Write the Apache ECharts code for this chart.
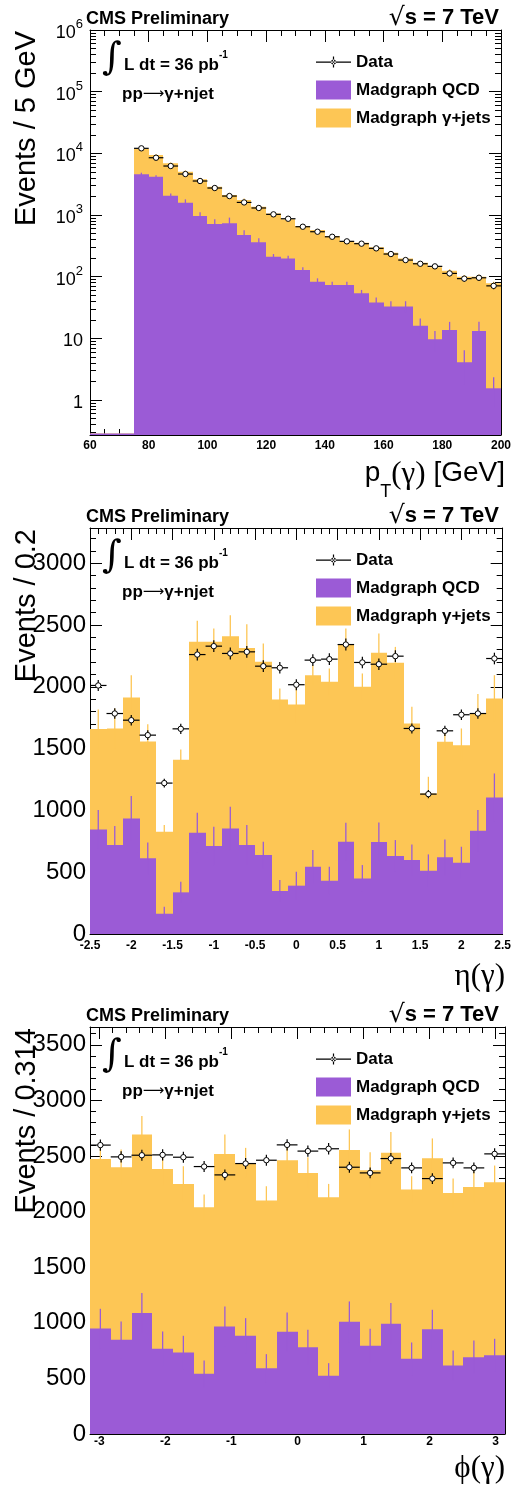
<!DOCTYPE html>
<html>
<head>
<meta charset="utf-8">
<script src="https://cdn.jsdelivr.net/npm/echarts@6/dist/echarts.min.js"></script>
<style>
  html, body { margin: 0; padding: 0; background: #fff; }
  #chart { width: 514px; height: 1495px; }
</style>
</head>
<body>
<div id="chart"></div>
<script>
// ---------- photon pT, 5 GeV bins from 60 to 200 GeV ----------
const ptBinWidth = 5;
const ptCenters = [62.5, 67.5, 72.5, 77.5, 82.5, 87.5, 92.5, 97.5, 102.5, 107.5, 112.5, 117.5, 122.5, 127.5,
  132.5, 137.5, 142.5, 147.5, 152.5, 157.5, 162.5, 167.5, 172.5, 177.5, 182.5, 187.5, 192.5, 197.5];
const ptData = [0, 0, 0, 12060, 8490, 6230, 4620, 3560, 2740, 2030, 1600, 1300, 1025, 870,
  646, 536, 444, 374, 343, 288, 233, 186, 162, 147, 113, 93, 96, 71];
const ptDataErr = [0, 0, 0, 110, 92, 79, 68, 60, 52, 45, 40, 36, 32, 29,
  25, 23, 21, 19, 19, 17, 15, 14, 13, 12, 11, 10, 10, 8.4];
const ptQCD = [0, 0, 0, 4570, 4180, 2055, 1585, 964, 715, 733, 474, 361, 211, 198,
  128, 83, 73, 73, 54, 38, 33, 33, 16, 9.7, 13.6, 4.1, 13.2, 1.55];
const ptQCDErr = [0, 0, 0, 280, 250, 180, 210, 145, 135, 175, 90, 58, 22, 20,
  14, 11, 10, 10, 7, 8, 7, 7, 5, 3.5, 4.9, 2.3, 5.4, 0.8];
const ptGJets = [0, 0, 0, 7180, 5220, 4840, 3460, 2840, 2170, 1380, 1280, 1000, 850, 652,
  535, 488, 383, 305, 302, 261, 212, 165, 153, 132, 111, 96, 87, 76.5];
const ptStackErr = [0, 0, 0, 300, 270, 210, 230, 165, 150, 180, 100, 70, 35, 30,
  22, 18, 16, 15, 13, 13, 12, 11, 9, 8, 8, 6, 8, 5];

// ---------- photon eta, 0.2 bins ----------
const etaBinWidth = 0.2;
const etaCenters = [-2.4, -2.2, -2.0, -1.8, -1.6, -1.4, -1.2, -1.0, -0.8, -0.6, -0.4, -0.2, 0.0,
  0.2, 0.4, 0.6, 0.8, 1.0, 1.2, 1.4, 1.6, 1.8, 2.0, 2.2, 2.4];
const etaData = [2011, 1784, 1730, 1609, 1221, 1660, 2261, 2329, 2270, 2283, 2167, 2154, 2017,
  2216, 2224, 2342, 2197, 2183, 2248, 1663, 1132, 1644, 1774, 1784, 2229];
const etaDataErr = [45, 42, 42, 40, 35, 41, 48, 48, 48, 48, 47, 46, 45,
  47, 47, 48, 47, 47, 47, 41, 34, 41, 42, 42, 47];
const etaQCD = [846, 720, 935, 612, 164, 337, 819, 712, 854, 720, 639, 348, 391,
  544, 431, 747, 450, 744, 631, 598, 512, 620, 577, 836, 1105];
const etaQCDErr = [157, 153, 181, 129, 57, 86, 162, 156, 176, 161, 108, 89, 113,
  135, 113, 153, 108, 159, 129, 127, 132, 145, 129, 167, 194];
const etaGJets = [812, 943, 979, 946, 663, 1073, 1545, 1652, 1556, 1595, 1563, 1550, 1466,
  1550, 1609, 1595, 1550, 1531, 1563, 1106, 625, 935, 951, 948, 801];
const etaStackErr = [159, 162, 180, 140, 54, 83, 170, 108, 170, 192, 148, 89, 150,
  80, 108, 130, 108, 156, 129, 134, 135, 80, 135, 157, 188];

// ---------- photon phi, 20 bins over [-pi, pi] ----------
const phiBinWidth = 0.314159;
const phiCenters = [-2.9845, -2.6704, -2.3562, -2.0420, -1.7279, -1.4137, -1.0996, -0.7854, -0.4712, -0.1571,
  0.1571, 0.4712, 0.7854, 1.0996, 1.4137, 1.7279, 2.0420, 2.3562, 2.6704, 2.9845];
const phiData = [2598, 2492, 2507, 2510, 2489, 2405, 2330, 2432, 2462, 2600,
  2544, 2565, 2399, 2348, 2477, 2393, 2297, 2438, 2393, 2519];
const phiDataErr = [51, 50, 50, 50, 50, 49, 48, 49, 50, 51, 50, 51, 49, 48, 50, 49, 48, 49, 49, 50];
const phiQCD = [949, 847, 1087, 766, 733, 541, 967, 883, 592, 919,
  781, 523, 1009, 793, 991, 676, 943, 616, 691, 709];
const phiQCDErr = [177, 165, 180, 156, 150, 120, 180, 159, 126, 174,
  156, 114, 183, 153, 186, 147, 174, 135, 150, 147];
const phiGJets = [1525, 1552, 1607, 1618, 1516, 1498, 1552, 1555, 1507, 1543,
  1567, 1606, 1544, 1579, 1538, 1522, 1537, 1552, 1531, 1555];
const phiStackErr = [150, 159, 165, 150, 159, 114, 174, 135, 129, 150,
  140, 120, 186, 162, 186, 120, 178, 129, 141, 150];

// ---------- styling ----------
const SANS = '"Liberation Sans", Arial, Helvetica, sans-serif';
const SERIF = '"Liberation Serif", "DejaVu Serif", "Times New Roman", serif';
const YELLOW = '#fdc655';
const PURPLE = '#9b5bd6';
const NAME_DATA = 'Data';
const NAME_QCD = 'Madgraph QCD';
const NAME_GJ = 'Madgraph \u03b3+jets';

const panels = [
  {
    top: 30, height: 405,
    centers: ptCenters, width: ptBinWidth, data: ptData, dataErr: ptDataErr,
    qcd: ptQCD, qcdErr: ptQCDErr, gjets: ptGJets, stackErr: ptStackErr,
    x: { min: 60, max: 200, interval: 20, minor: 4, margin: 5 },
    y: { type: 'log', min: 0.271, max: 1e6, minor: 9 },
    yTitle: 'Events / 5 GeV',
    xTitle: '{n|p}{s|T}{g|(\u03b3)}{n| [GeV]}', xTitleY: 40
  },
  {
    top: 528, height: 406,
    centers: etaCenters, width: etaBinWidth, data: etaData, dataErr: etaDataErr,
    qcd: etaQCD, qcdErr: etaQCDErr, gjets: etaGJets, stackErr: etaStackErr,
    x: { min: -2.5, max: 2.5, interval: 0.5, minor: 5, margin: 6 },
    y: { type: 'value', min: 0, max: 3285, interval: 500, minor: 5 },
    yTitle: 'Events / 0.2',
    xTitle: '{g|\u03b7(\u03b3)}', xTitleY: 43
  },
  {
    top: 1027, height: 407,
    centers: phiCenters, width: phiBinWidth, data: phiData, dataErr: phiDataErr,
    qcd: phiQCD, qcdErr: phiQCDErr, gjets: phiGJets, stackErr: phiStackErr,
    x: { min: -Math.PI, max: Math.PI, interval: null, minor: 5, margin: 2 },
    y: { type: 'value', min: 0, max: 3660, interval: 500, minor: 5 },
    yTitle: 'Events / 0.314',
    xTitle: '{g|\u03d5(\u03b3)}', xTitleY: 35
  }
];

// bin edges rounded so that neighbouring bins share exactly the same pixel edge
function edge(v) { return Math.round(v * 1000) / 1000; }

// filled histogram with an error bar at each bin centre, drawn in the fill colour
function histRenderer(width, color) {
  return function (params, api) {
    const c = api.value(0), top = api.value(1), err = api.value(2);
    const cs = params.coordSys;
    const yBase = cs.y + cs.height;
    const yRef = top > 0 ? top : 1;
    const xl = Math.round(api.coord([edge(c - width / 2), yRef])[0]);
    const xr = Math.round(api.coord([edge(c + width / 2), yRef])[0]);
    if (!(top > 0)) {
      return { type: 'rect', shape: { x: xl, y: yBase - 1.5, width: xr - xl, height: 1.5 }, style: { fill: color } };
    }
    const yTop = api.coord([c, top])[1];
    const children = [{ type: 'rect', shape: { x: xl, y: yTop, width: xr - xl, height: yBase - yTop }, style: { fill: color } }];
    if (err > 0) {
      const xc = api.coord([c, top])[0];
      const yHi = Math.max(cs.y, api.coord([c, top + err])[1]);
      const lo = top - err;
      const yLo = lo > 0 ? Math.min(yBase, api.coord([c, lo])[1]) : yBase;
      children.push({ type: 'line', shape: { x1: xc, y1: yHi, x2: xc, y2: yLo }, style: { stroke: color, lineWidth: 1.3 } });
    }
    return { type: 'group', children: children };
  };
}

// open circles with horizontal bin-width bars and vertical error bars
function dataRenderer(width) {
  return function (params, api) {
    const c = api.value(0), v = api.value(1), e = api.value(2);
    if (!(v > 0)) return null;
    const p = api.coord([c, v]);
    const xl = api.coord([c - width / 2, v])[0];
    const xr = api.coord([c + width / 2, v])[0];
    const yt = api.coord([c, v + e])[1];
    const yb = api.coord([c, Math.max(v - e, 1e-3)])[1];
    return {
      type: 'group', children: [
        { type: 'line', shape: { x1: xl, y1: p[1], x2: xr, y2: p[1] }, style: { stroke: '#000', lineWidth: 1.2 } },
        { type: 'line', shape: { x1: p[0], y1: yt, x2: p[0], y2: yb }, style: { stroke: '#000', lineWidth: 1.2 } },
        { type: 'circle', shape: { cx: p[0], cy: p[1], r: 2.7 }, style: { fill: '#fff', stroke: '#000', lineWidth: 1 } }
      ]
    };
  };
}

function logLabel(v) {
  const l = Math.log10(v);
  const e = Math.round(l);
  if (Math.abs(l - e) > 1e-6) return '';
  if (e === 0) return '{b|1}';
  if (e === 1) return '{b|10}';
  return '{b|10}{s|' + e + '}';
}

const axisLineStyle = { color: '#000', width: 1 };
const grids = [], xAxes = [], yAxes = [], series = [], legends = [], graphics = [];

panels.forEach(function (p, k) {
  grids.push({ left: 90, right: 9, top: p.top, height: p.height, containLabel: false });

  const xBase = {
    type: 'value', gridIndex: k, min: p.x.min, max: p.x.max,
    splitLine: { show: false },
    axisLine: { show: true, onZero: false, lineStyle: axisLineStyle },
    axisTick: { show: true, inside: true, length: 12, lineStyle: axisLineStyle },
    minorTick: { show: true, splitNumber: p.x.minor, length: 6, lineStyle: axisLineStyle }
  };
  if (p.x.interval) xBase.interval = p.x.interval;
  xAxes.push(Object.assign({}, xBase, {
    position: 'bottom',
    axisLabel: {
      show: true, margin: p.x.margin, color: '#000', fontFamily: SANS, fontWeight: 'bold', fontSize: 12,
      showMinLabel: p.x.interval ? null : false, showMaxLabel: p.x.interval ? null : false,
      formatter: function (v) {
        if (!p.x.interval && Math.abs(v - Math.round(v)) > 1e-9) return '';
        return String(Math.round(v * 10) / 10);
      }
    }
  }));
  xAxes.push(Object.assign({}, xBase, { position: 'top', axisLabel: { show: false } }));

  const yBase = {
    type: p.y.type, gridIndex: k, min: p.y.min, max: p.y.max,
    splitLine: { show: false },
    axisLine: { show: true, onZero: false, lineStyle: axisLineStyle },
    axisTick: { show: true, inside: true, length: 12, lineStyle: axisLineStyle },
    minorTick: { show: true, splitNumber: p.y.minor, length: 6, lineStyle: axisLineStyle }
  };
  if (p.y.type === 'log') yBase.logBase = 10;
  if (p.y.interval) yBase.interval = p.y.interval;
  const yLabel = p.y.type === 'log'
    ? {
      show: true, margin: 7, color: '#000', fontFamily: SANS, showMinLabel: false,
      formatter: logLabel,
      rich: {
        b: { fontFamily: SANS, fontSize: 18, color: '#000', lineHeight: 24, verticalAlign: 'bottom' },
        s: { fontFamily: SANS, fontSize: 13, color: '#000', lineHeight: 10, verticalAlign: 'top' }
      }
    }
    : {
      show: true, margin: 4, color: '#000', fontFamily: SANS, fontSize: 24, showMaxLabel: false,
      formatter: function (v) { return String(v); }
    };
  yAxes.push(Object.assign({}, yBase, { position: 'left', axisLabel: yLabel }));
  yAxes.push(Object.assign({}, yBase, { position: 'right', axisLabel: { show: false } }));

  const xi = 2 * k, yi = 2 * k;
  series.push({
    type: 'custom', name: NAME_GJ, xAxisIndex: xi, yAxisIndex: yi, z: 2,
    itemStyle: { color: YELLOW },
    renderItem: histRenderer(p.width, YELLOW),
    data: p.centers.map(function (c, i) { return [c, p.qcd[i] + p.gjets[i], p.stackErr[i]]; })
  });
  series.push({
    type: 'custom', name: NAME_QCD, xAxisIndex: xi, yAxisIndex: yi, z: 3,
    itemStyle: { color: PURPLE },
    renderItem: histRenderer(p.width, PURPLE),
    data: p.centers.map(function (c, i) { return [c, p.qcd[i], p.qcdErr[i]]; })
  });
  series.push({
    type: 'custom', name: NAME_DATA, xAxisIndex: xi, yAxisIndex: yi, z: 4,
    itemStyle: { color: '#000' },
    renderItem: dataRenderer(p.width),
    data: p.centers.map(function (c, i) { return [c, p.data[i], p.dataErr[i]]; })
  });

  legends.push({
    orient: 'vertical', left: 316, top: p.top + 22.5, padding: 0, itemGap: 9,
    itemWidth: 35, itemHeight: 19, selectedMode: false,
    textStyle: { fontFamily: SANS, fontWeight: 'bold', fontSize: 17, color: '#000', lineHeight: 19 },
    data: [
      { name: NAME_DATA, icon: 'path://M0,5H35V6.2H0Z M16.9,0H18.1V11H16.9Z M15,5.6a2.5,2.5 0 1,0 5,0a2.5,2.5 0 1,0 -5,0Z' },
      { name: NAME_QCD, icon: 'rect' },
      { name: NAME_GJ, icon: 'rect' }
    ]
  });

  const T = p.top, B = p.top + p.height;
  graphics.push(
    { type: 'text', x: 86, y: T - 11, style: { text: 'CMS Preliminary', fill: '#000', font: 'bold 18px ' + SANS, align: 'left', verticalAlign: 'middle' } },
    {
      type: 'text', x: 499, y: T - 12, style: {
        text: '{r|\u221a}{t|s = 7 TeV}', align: 'right', verticalAlign: 'middle',
        rich: {
          r: { fontFamily: '"DejaVu Sans", sans-serif', fontSize: 25, fill: '#000' },
          t: { fontFamily: SANS, fontWeight: 'bold', fontSize: 22, fill: '#000' }
        }
      }
    },
    { type: 'text', x: 112, y: T + 29, style: { text: '\u222b', fill: '#000', font: '38px "DejaVu Serif", serif', align: 'center', verticalAlign: 'middle' } },
    {
      type: 'text', x: 124, y: T + 32, style: {
        text: '{m|L dt = 36 pb}{s|-1}', align: 'left', verticalAlign: 'middle',
        rich: {
          m: { fontFamily: SANS, fontWeight: 'bold', fontSize: 17, fill: '#000', lineHeight: 24, verticalAlign: 'bottom' },
          s: { fontFamily: SANS, fontWeight: 'bold', fontSize: 10, fill: '#000', lineHeight: 10, verticalAlign: 'top' }
        }
      }
    },
    {
      type: 'text', x: 122, y: T + 64, style: {
        text: '{t|pp}{a|\u27f6}{t|\u03b3+njet}', align: 'left', verticalAlign: 'middle',
        rich: {
          t: { fontFamily: SANS, fontWeight: 'bold', fontSize: 17, fill: '#000' },
          a: { fontFamily: '"DejaVu Sans", sans-serif', fontSize: 15, fill: '#000' }
        }
      }
    },
    {
      type: 'text', x: 27, y: T + 1, rotation: Math.PI / 2,
      style: { text: p.yTitle, fill: '#000', font: '29px ' + SANS, align: 'right', verticalAlign: 'middle' }
    },
    {
      type: 'text', x: 505, y: B + p.xTitleY - 16, style: {
        text: p.xTitle, align: 'right', verticalAlign: 'top',
        rich: {
          n: { fontFamily: SANS, fontSize: 28, fill: '#000', lineHeight: 30, verticalAlign: 'top' },
          s: { fontFamily: SANS, fontSize: 18, fill: '#000', lineHeight: 42, verticalAlign: 'bottom' },
          g: { fontFamily: SERIF, fontSize: 31, fill: '#000', lineHeight: 30, verticalAlign: 'top' }
        }
      }
    }
  );
});

const chart = echarts.init(document.getElementById('chart'), null, { renderer: 'canvas' });
chart.setOption({
  animation: false,
  backgroundColor: '#fff',
  grid: grids,
  xAxis: xAxes,
  yAxis: yAxes,
  legend: legends,
  series: series,
  graphic: { elements: graphics }
});
</script>
</body>
</html>
